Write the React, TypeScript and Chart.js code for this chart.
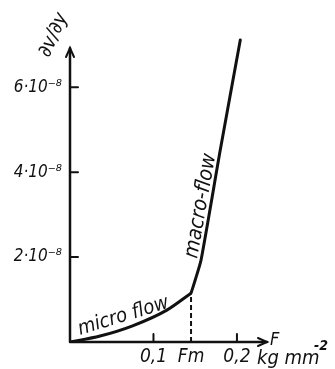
import React, { useEffect, useRef } from "react";
import { Chart, registerables } from "chart.js";

Chart.register(...registerables);

// values of the strain-rate axis are in units of 10^-8
const microX = [0, 0.036, 0.075, 0.116, 0.145];
const microY = [0, 0.14, 0.38, 0.75, 1.15];
const macroX = [0.145, 0.15, 0.157, 0.18, 0.204];
const macroY = [1.15, 1.46, 1.93, 4.52, 7.11];
const fm = 0.145;
const xTickValues = [0.1, fm, 0.2];
const xTickLabels = ["0,1", "Fm", "0,2"];
const yTickValues = [2, 4, 6];
const yTickLabels = ["2·10⁻⁸", "4·10⁻⁸", "6·10⁻⁸"];

const FONT = "'DejaVu Sans Condensed', 'DejaVu Sans', sans-serif";
const INK = "#111";

const axesPlugin = {
  id: "handAxes",
  afterDraw(chart: any) {
    const ctx = chart.ctx;
    const xs = chart.scales.x;
    const ys = chart.scales.y;
    const x0 = xs.getPixelForValue(0);
    const y0 = ys.getPixelForValue(0);
    const yTop = 48;
    const xEnd = 267;
    ctx.save();
    ctx.strokeStyle = INK;
    ctx.fillStyle = INK;
    ctx.lineCap = "round";
    ctx.lineWidth = 2.5;
    ctx.beginPath();
    ctx.moveTo(x0, y0);
    ctx.lineTo(x0, yTop);
    ctx.moveTo(x0, y0);
    ctx.lineTo(xEnd, y0);
    ctx.stroke();
    ctx.lineWidth = 2;
    ctx.beginPath();
    ctx.moveTo(x0 - 4, yTop + 9);
    ctx.lineTo(x0, yTop);
    ctx.lineTo(x0 + 4, yTop + 9);
    ctx.moveTo(xEnd - 9, y0 - 4);
    ctx.lineTo(xEnd, y0);
    ctx.lineTo(xEnd - 9, y0 + 4);
    ctx.stroke();
    ctx.lineWidth = 2;
    ctx.beginPath();
    yTickValues.forEach((v) => {
      const p = ys.getPixelForValue(v);
      ctx.moveTo(x0, p);
      ctx.lineTo(x0 + 8, p);
    });
    [0.1, 0.2].forEach((v) => {
      const p = xs.getPixelForValue(v);
      ctx.moveTo(p, y0);
      ctx.lineTo(p, y0 - 8);
    });
    ctx.stroke();
    ctx.textBaseline = "alphabetic";
    ctx.textAlign = "left";
    ctx.font = `italic 18px ${FONT}`;
    ctx.fillText("F", 270, 345);
    ctx.font = `italic 20px ${FONT}`;
    ctx.fillText("kg mm", 257, 364);
    ctx.font = `italic bold 14px ${FONT}`;
    ctx.fillText("-2", 314, 350);
    ctx.save();
    ctx.translate(49, 58);
    ctx.rotate((-66 * Math.PI) / 180);
    ctx.font = `italic 20px ${FONT}`;
    ctx.fillText("∂v/∂y", 0, 0);
    ctx.restore();
    ctx.save();
    ctx.translate(80, 335);
    ctx.rotate((-17 * Math.PI) / 180);
    ctx.font = `italic 20px ${FONT}`;
    ctx.fillText("micro flow", 0, 0);
    ctx.restore();
    ctx.save();
    ctx.translate(197, 259);
    ctx.rotate((-80 * Math.PI) / 180);
    ctx.font = `italic 21px ${FONT}`;
    ctx.fillText("macro-flow", 0, 0);
    ctx.restore();
    ctx.restore();
  },
};

export default function App() {
  const ref = useRef<HTMLCanvasElement | null>(null);
  useEffect(() => {
    if (!ref.current) return;
    const chart = new Chart(ref.current, {
      type: "scatter",
      data: {
        datasets: [
          {
            data: microX.map((x, i) => ({ x, y: microY[i] })),
            showLine: true,
            borderColor: INK,
            borderWidth: 3,
            pointRadius: 0,
            cubicInterpolationMode: "monotone",
          } as any,
          {
            data: macroX.map((x, i) => ({ x, y: macroY[i] })),
            showLine: true,
            borderColor: INK,
            borderWidth: 3,
            pointRadius: 0,
            tension: 0.2,
            borderCapStyle: "round",
          } as any,
          {
            data: [
              { x: fm, y: 0 },
              { x: fm, y: microY[microY.length - 1] },
            ],
            showLine: true,
            borderColor: INK,
            borderWidth: 2,
            borderDash: [5, 3],
            pointRadius: 0,
          } as any,
        ],
      },
      options: {
        animation: false,
        responsive: false,
        maintainAspectRatio: false,
        layout: { padding: { left: 8, right: 68, top: 32, bottom: 0 } },
        plugins: { legend: { display: false }, tooltip: { enabled: false } },
        scales: {
          x: {
            type: "linear",
            min: 0,
            max: 0.236,
            grid: { display: false, drawTicks: false },
            border: { display: false },
            afterBuildTicks: (s: any) => {
              s.ticks = xTickValues.map((v) => ({ value: v }));
            },
            afterFit: (s: any) => {
              s.height = 27;
            },
            ticks: {
              autoSkip: false,
              maxRotation: 0,
              padding: 4,
              color: INK,
              font: { family: FONT, size: 19, style: "italic" },
              callback: (_v: any, i: number) => xTickLabels[i],
            },
          },
          y: {
            type: "linear",
            min: 0,
            max: 7.3,
            grid: { display: false, drawTicks: false },
            border: { display: false },
            afterBuildTicks: (s: any) => {
              s.ticks = yTickValues.map((v) => ({ value: v }));
            },
            afterFit: (s: any) => {
              s.width = 62;
            },
            ticks: {
              autoSkip: false,
              padding: 8,
              color: INK,
              font: { family: FONT, size: 17, style: "italic" },
              callback: (_v: any, i: number) => yTickLabels[i],
            },
          },
        },
      },
      plugins: [axesPlugin],
    } as any);
    return () => chart.destroy();
  }, []);
  return (
    <div style={{ position: "fixed", left: 0, top: 0, width: 335, height: 369, background: "#fff" }}>
      <canvas ref={ref} width={335} height={369} style={{ width: 335, height: 369, display: "block" }} />
    </div>
  );
}
